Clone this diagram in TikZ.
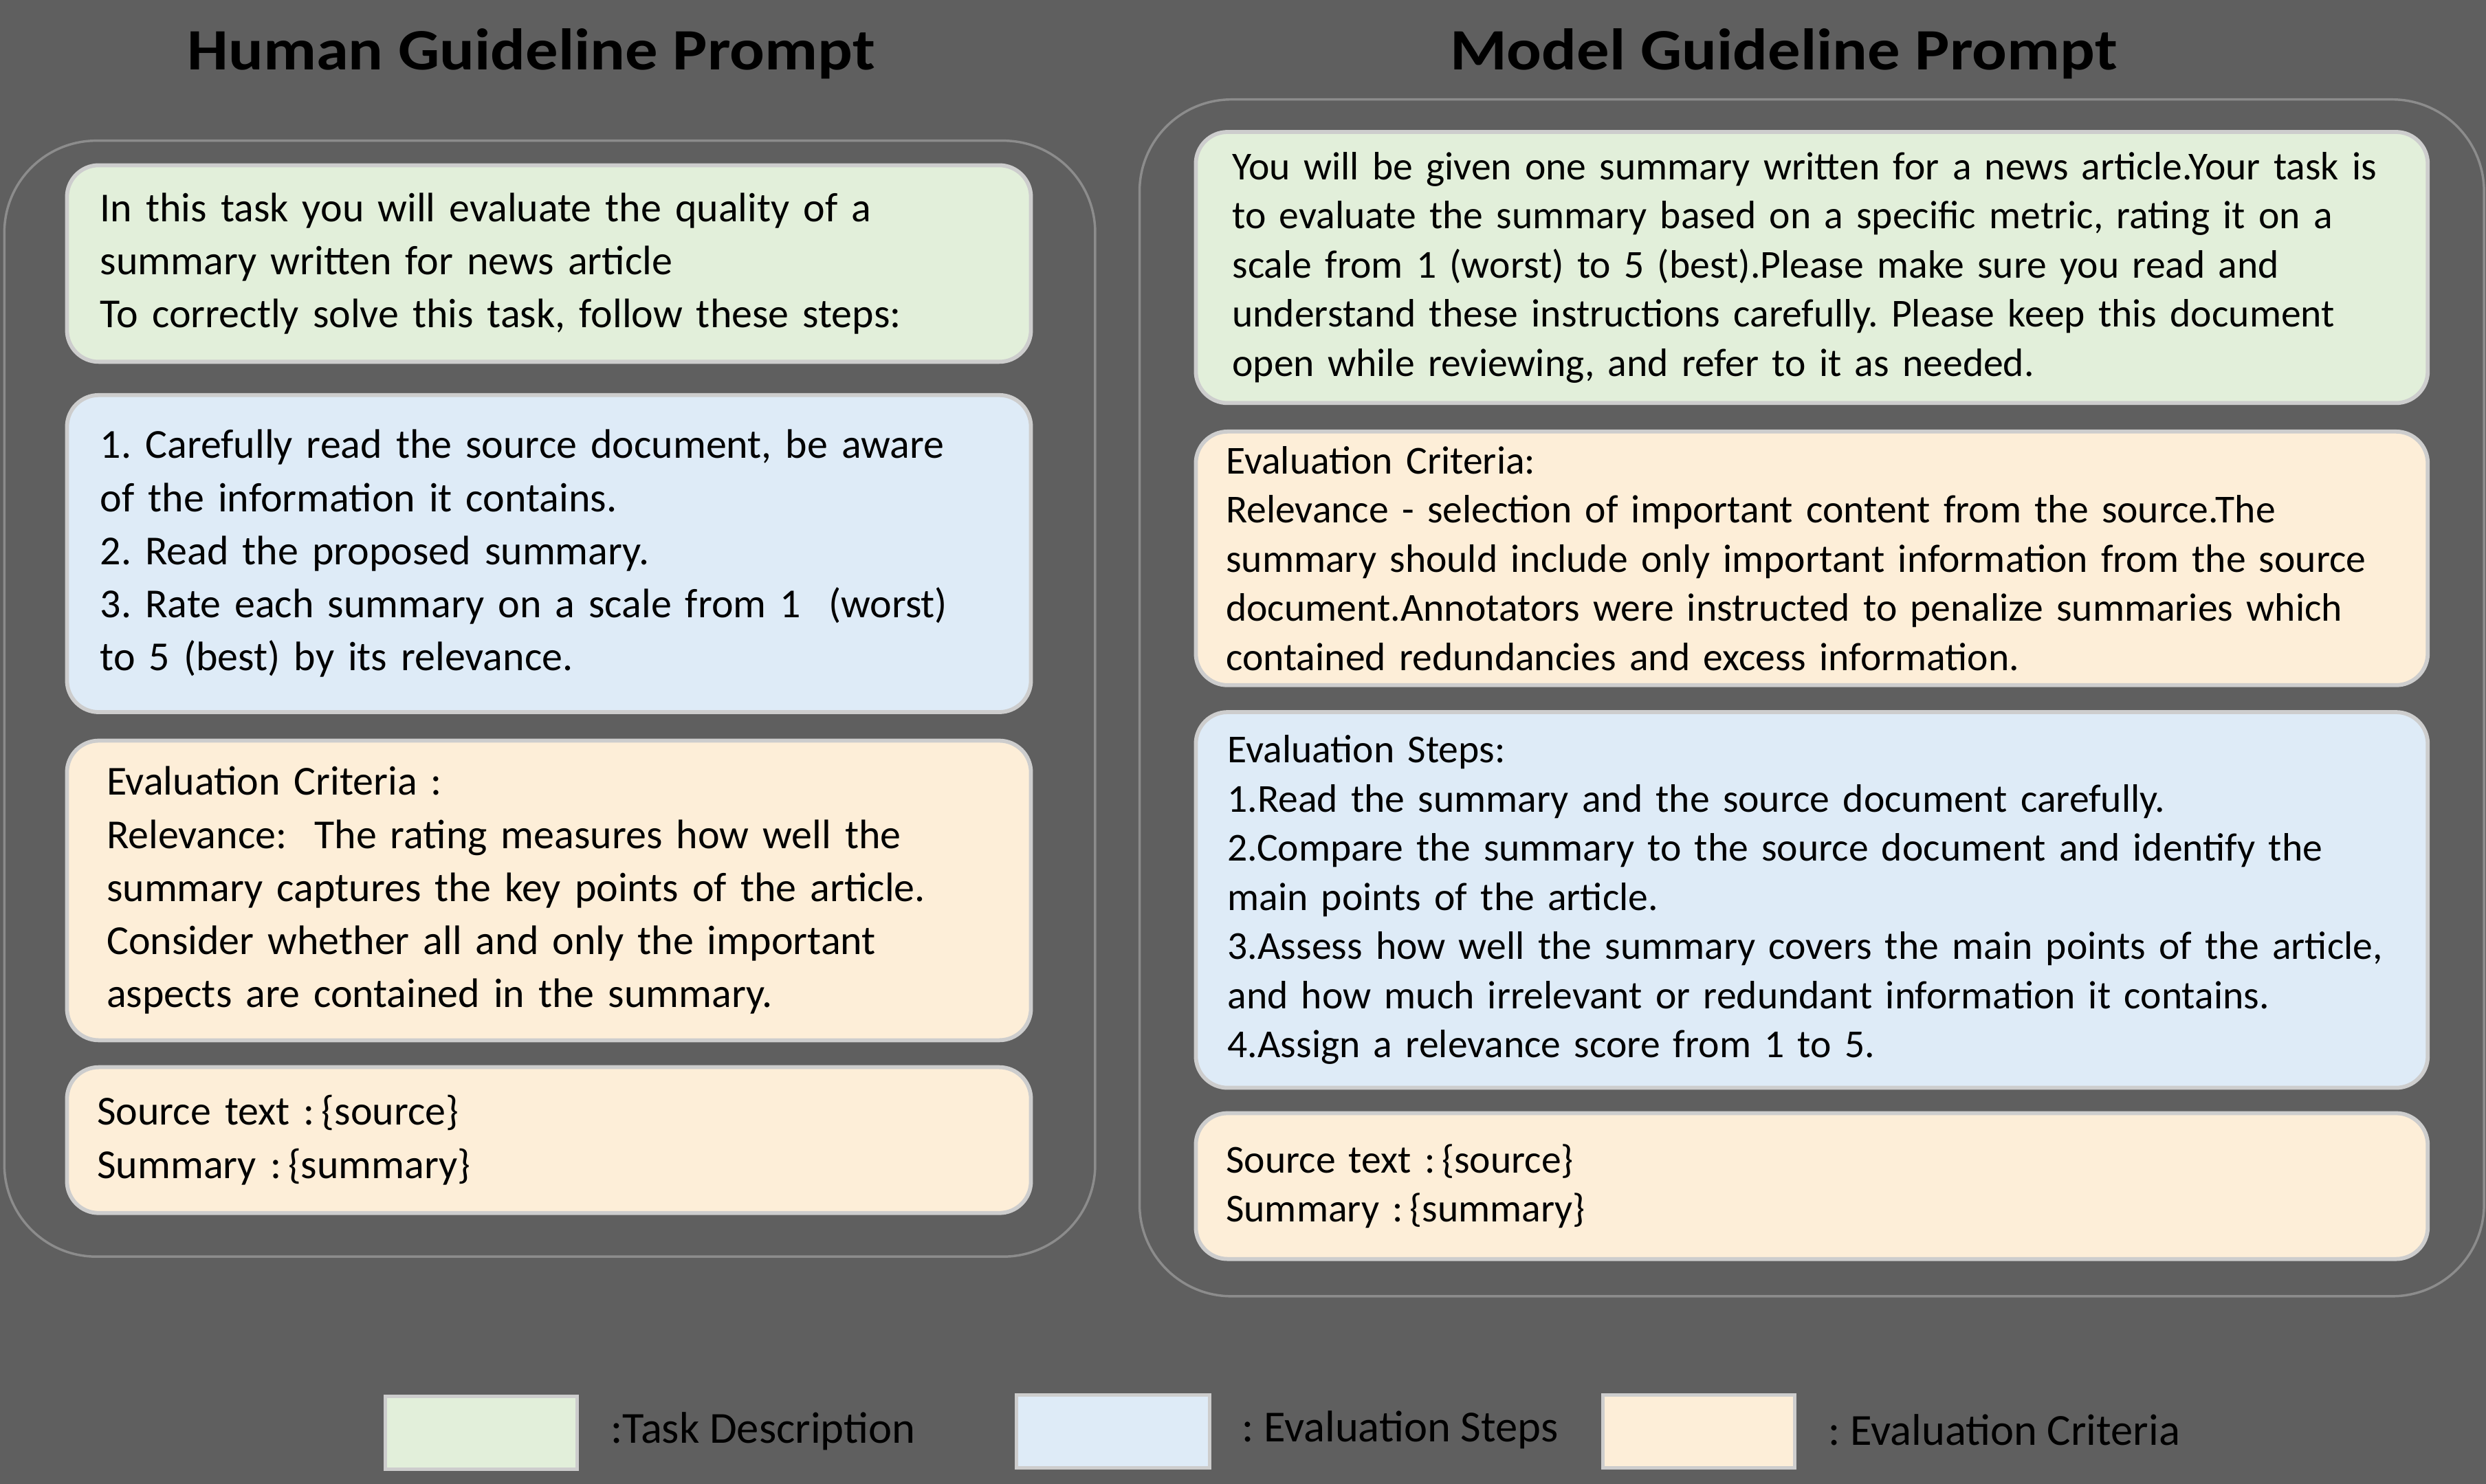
\documentclass[tikz,border=0pt]{standalone}
\usepackage{fontspec}
\setmainfont{Carlito}
\frenchspacing
\definecolor{bg}{HTML}{5F5F5F}
\definecolor{taskc}{HTML}{E2EFDA}
\definecolor{stepc}{HTML}{DEEBF7}
\definecolor{critc}{HTML}{FDEED8}
\definecolor{boxline}{HTML}{CDCDCD}
\definecolor{panelline}{HTML}{8C8C8C}
\tikzset{
  panel/.style={draw=panelline, line width=1.5pt, rounded corners=58pt, anchor=north west, inner sep=0pt},
  card/.style={draw=boxline, line width=2.5pt, rounded corners=20pt, anchor=north west, align=left, inner ysep=0pt, text=black},
  lcard/.style={card, font=\fontsize{26}{33.5}\selectfont\frenchspacing},
  rcard/.style={card, font=\fontsize{25}{31}\selectfont\frenchspacing},
  ttl/.style={font=\fontsize{37}{44}\selectfont\bfseries, text=black},
  swatch/.style={draw=boxline, line width=2pt, anchor=north west, inner sep=0pt},
  legtext/.style={font=\fontsize{28}{34}\selectfont, anchor=west, text=black, inner sep=0pt},
}
\begin{document}
\begin{tikzpicture}[x=1pt,y=-1pt]
\useasboundingbox (0,0) rectangle (1568,936);
\fill[bg] (0,0) rectangle (1568,936);

% titles
\node[ttl] (ltitle) at (335,34) {\scalebox{1.11}[1]{Human Guideline Prompt}};
\node[ttl] (rtitle) at (1125,34) {\scalebox{1.11}[1]{Model Guideline Prompt}};

% panels
\node[panel, minimum width=688pt, minimum height=704pt] (lpanel) at (2,88) {};
\node[panel, minimum width=848pt, minimum height=755pt] (rpanel) at (718,62) {};

% left cards
\node[lcard, fill=taskc, minimum width=608pt, minimum height=124pt, inner xsep=21pt, text width=566pt] (ltask) at (41,103)
 {In this task you will evaluate the quality of a\\
  summary written for news article\\
  To correctly solve this task, follow these steps:};
\node[lcard, fill=stepc, minimum width=608pt, minimum height=200pt, inner xsep=21pt, text width=566pt] (lsteps) at (41,248)
 {1. Carefully read the source document, be aware\\
  of the information it contains.\\
  2. Read the proposed summary.\\
  3. Rate each summary on a scale from 1\ \ (worst)\\
  to 5 (best) by its relevance.};
\node[lcard, fill=critc, minimum width=608pt, minimum height=189pt, inner xsep=25pt, text width=558pt] (lcrit) at (41,466)
 {Evaluation Criteria :\\
  Relevance:\ \ The rating measures how well the\\
  summary captures the key points of the article.\\
  Consider whether all and only the important\\
  aspects are contained in the summary.};
\node[lcard, fill=critc, minimum width=608pt, minimum height=92pt, inner xsep=19pt, text width=570pt] (lsrc) at (41,672)
 {Source text :\,\{source\}\\
  Summary :\,\{summary\}};

% right cards
\node[rcard, fill=taskc, minimum width=777pt, minimum height=171pt, inner xsep=23pt, text width=731pt] (rtask) at (753,82)
 {You will be given one summary written for a news article.Your task is\\
  to evaluate the summary based on a specific metric, rating it on a\\
  scale from 1 (worst) to 5 (best).Please make sure you read and\\
  understand these instructions carefully. Please keep this document\\
  open while reviewing, and refer to it as needed.};
\node[rcard, fill=critc, minimum width=777pt, minimum height=160pt, inner xsep=19pt, text width=739pt] (rcrit) at (753,271)
 {Evaluation Criteria:\\
  Relevance - selection of important content from the source.The\\
  summary should include only important information from the source\\
  document.Annotators were instructed to penalize summaries which\\
  contained redundancies and excess information.};
\node[rcard, fill=stepc, minimum width=777pt, minimum height=237pt, inner xsep=20pt, text width=737pt] (rsteps) at (753,448)
 {Evaluation Steps:\\
  1.Read the summary and the source document carefully.\\
  2.Compare the summary to the source document and identify the\\
  main points of the article.\\
  3.Assess how well the summary covers the main points of the article,\\
  and how much irrelevant or redundant information it contains.\\
  4.Assign a relevance score from 1 to 5.};
\node[rcard, fill=critc, minimum width=777pt, minimum height=92pt, inner xsep=19pt, text width=739pt] (rsrc) at (753,701)
 {Source text :\,\{source\}\\
  Summary :\,\{summary\}};

% legend
\node[swatch, fill=taskc, minimum width=121pt, minimum height=46pt] (sw1) at (242,880) {};
\node[legtext] (lg1) at (385,903) {:Task Description};
\node[swatch, fill=stepc, minimum width=122pt, minimum height=46pt] (sw2) at (640,879) {};
\node[legtext] (lg2) at (783,902) {: Evaluation Steps};
\node[swatch, fill=critc, minimum width=121pt, minimum height=46pt] (sw3) at (1010,879) {};
\node[legtext] (lg3) at (1153,902) {: Evaluation Criteria};
\end{tikzpicture}
\end{document}
